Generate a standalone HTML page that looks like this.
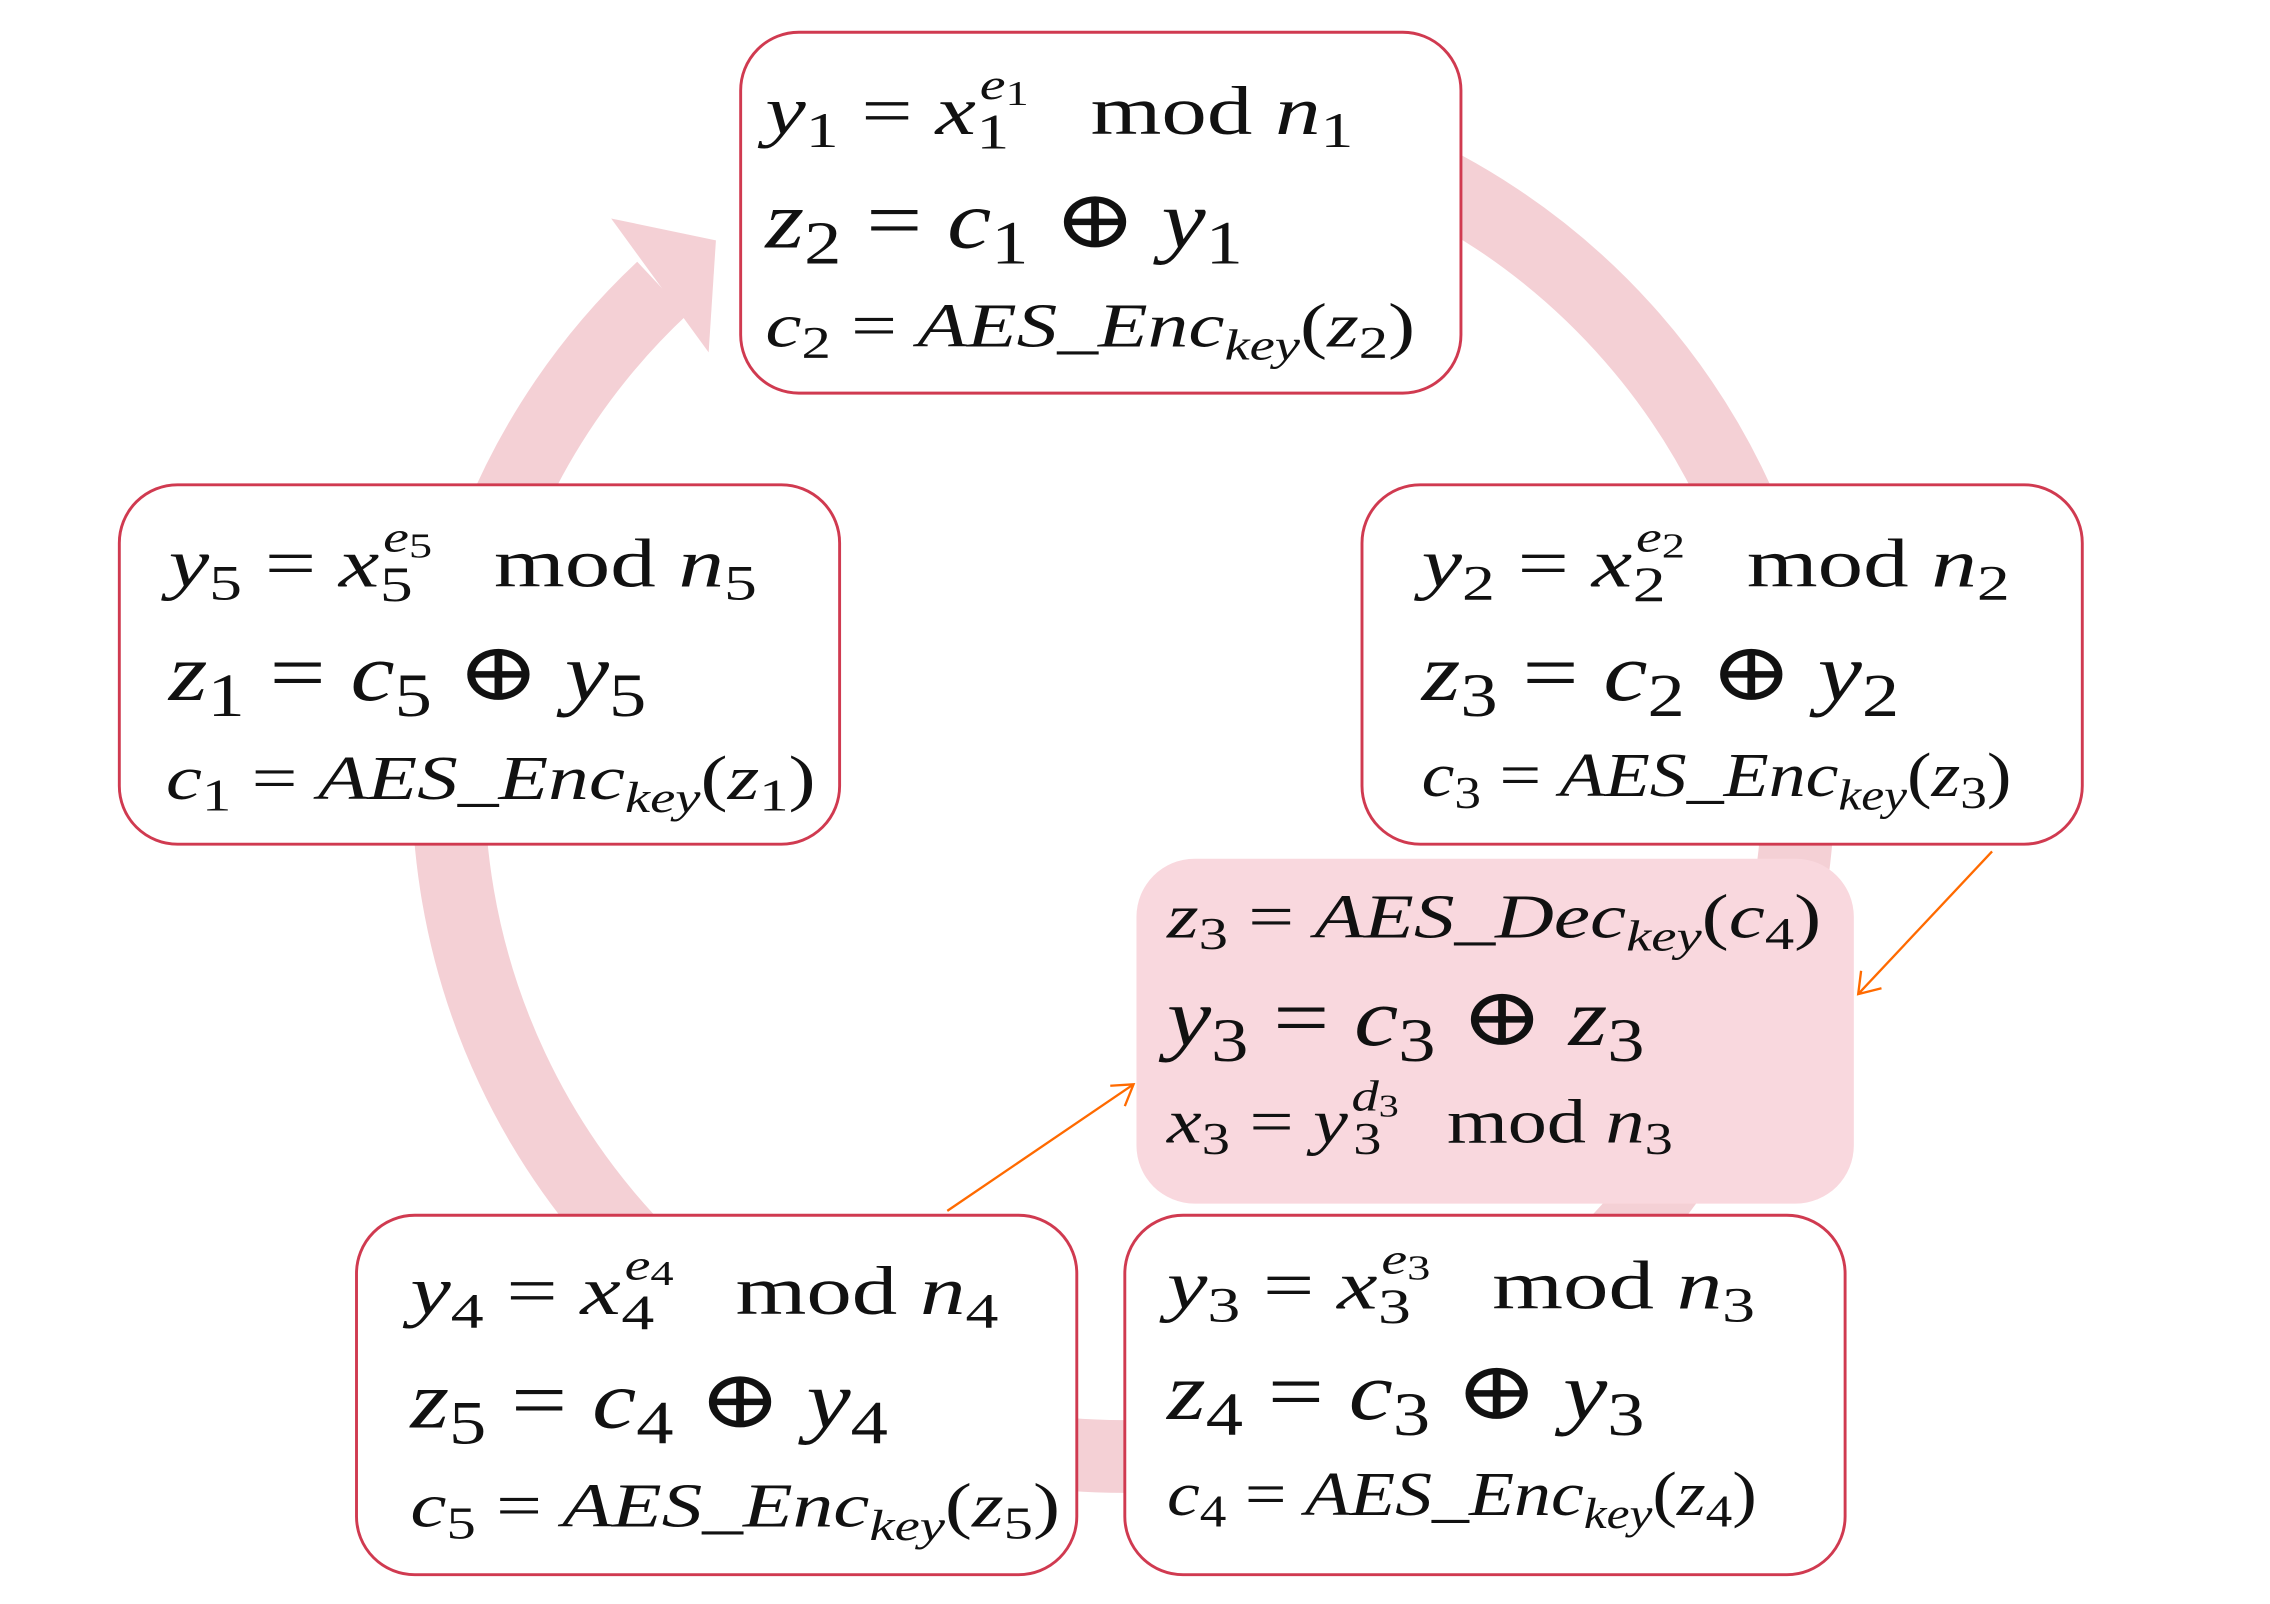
<!DOCTYPE html>
<html><head><meta charset="utf-8"><style>
html,body{margin:0;padding:0;background:#fff;}
svg{display:block;}
text{font-family:"Liberation Serif","DejaVu Serif",serif;font-style:italic;fill:#111;}
.r{font-style:normal;}
.l1{font-size:47px;} .l2{font-size:56px;} .l3{font-size:43px;}
</style></head><body>
<svg width="2270" height="1604" viewBox="0 0 1560 1102" xmlns="http://www.w3.org/2000/svg">
<path d="M 455 198 A 464 464 0 1 0 590 110" fill="none" stroke="#f4d0d5" stroke-width="50"/>
<polygon points="420,150 492,165 487,242" fill="#f4d0d5"/>

<!-- top box -->
<g transform="translate(509,22)">
<rect x="0" y="0" width="495" height="248" rx="40" fill="#fff" stroke="#d03a50" stroke-width="2"/>
<g transform="translate(17,70) scale(1.33,1)"><text class="l1" x="0" y="0">y<tspan class="r" font-size="34" dy="9">1</tspan><tspan class="r" dy="-9"> = </tspan>x<tspan dx="2" font-size="30" dy="-24">e</tspan><tspan class="r" font-size="24" dy="4">1</tspan><tspan class="r" font-size="34" dx="-27" dy="30">1</tspan><tspan class="r" dx="42" dy="-10">mod </tspan>n<tspan class="r" font-size="34" dy="9">1</tspan></text></g>
<g transform="translate(17,148) scale(1.22,1)"><text class="l2" x="0" y="0">z<tspan class="r" font-size="42" dy="11">2</tspan><tspan class="r" dy="-11"> = </tspan>c<tspan class="r" font-size="42" dy="11">1</tspan><tspan class="r" dy="-11"> ⊕ </tspan>y<tspan class="r" font-size="42" dy="11">1</tspan></text></g>
<g transform="translate(17,216) scale(1.3,1)"><text class="l3" x="0" y="0">c<tspan class="r" font-size="31" dy="8">2</tspan><tspan class="r" dy="-8"> = </tspan>AES_Enc<tspan font-size="30" dy="9">key</tspan><tspan class="r" dy="-9">(</tspan>z<tspan class="r" font-size="31" dy="8">2</tspan><tspan class="r" dy="-8">)</tspan></text></g>
</g>

<!-- left box -->
<g transform="translate(82,333)">
<rect x="0" y="0" width="495" height="247" rx="40" fill="#fff" stroke="#d03a50" stroke-width="2"/>
<g transform="translate(34,70) scale(1.33,1)"><text class="l1" x="0" y="0">y<tspan class="r" font-size="34" dy="9">5</tspan><tspan class="r" dy="-9"> = </tspan>x<tspan dx="2" font-size="30" dy="-24">e</tspan><tspan class="r" font-size="24" dy="4">5</tspan><tspan class="r" font-size="34" dx="-27" dy="30">5</tspan><tspan class="r" dx="42" dy="-10">mod </tspan>n<tspan class="r" font-size="34" dy="9">5</tspan></text></g>
<g transform="translate(34,148) scale(1.22,1)"><text class="l2" x="0" y="0">z<tspan class="r" font-size="42" dy="11">1</tspan><tspan class="r" dy="-11"> = </tspan>c<tspan class="r" font-size="42" dy="11">5</tspan><tspan class="r" dy="-11"> ⊕ </tspan>y<tspan class="r" font-size="42" dy="11">5</tspan></text></g>
<g transform="translate(32,216) scale(1.3,1)"><text class="l3" x="0" y="0">c<tspan class="r" font-size="31" dy="8">1</tspan><tspan class="r" dy="-8"> = </tspan>AES_Enc<tspan font-size="30" dy="9">key</tspan><tspan class="r" dy="-9">(</tspan>z<tspan class="r" font-size="31" dy="8">1</tspan><tspan class="r" dy="-8">)</tspan></text></g>
</g>

<!-- right box -->
<g transform="translate(936,333)">
<rect x="0" y="0" width="495" height="247" rx="40" fill="#fff" stroke="#d03a50" stroke-width="2"/>
<g transform="translate(41,70) scale(1.33,1)"><text class="l1" x="0" y="0">y<tspan class="r" font-size="34" dy="9">2</tspan><tspan class="r" dy="-9"> = </tspan>x<tspan dx="2" font-size="30" dy="-24">e</tspan><tspan class="r" font-size="24" dy="4">2</tspan><tspan class="r" font-size="34" dx="-27" dy="30">2</tspan><tspan class="r" dx="42" dy="-10">mod </tspan>n<tspan class="r" font-size="34" dy="9">2</tspan></text></g>
<g transform="translate(41,148) scale(1.22,1)"><text class="l2" x="0" y="0">z<tspan class="r" font-size="42" dy="11">3</tspan><tspan class="r" dy="-11"> = </tspan>c<tspan class="r" font-size="42" dy="11">2</tspan><tspan class="r" dy="-11"> ⊕ </tspan>y<tspan class="r" font-size="42" dy="11">2</tspan></text></g>
<g transform="translate(41,214) scale(1.18,1)"><text class="l3" x="0" y="0">c<tspan class="r" font-size="31" dy="8">3</tspan><tspan class="r" dy="-8"> = </tspan>AES_Enc<tspan font-size="30" dy="9">key</tspan><tspan class="r" dy="-9">(</tspan>z<tspan class="r" font-size="31" dy="8">3</tspan><tspan class="r" dy="-8">)</tspan></text></g>
</g>

<!-- decrypt box -->
<g transform="translate(781,590)">
<rect x="0" y="0" width="493" height="237" rx="40" fill="#f9d8de"/>
<g transform="translate(21,54) scale(1.3,1)"><text class="l3" x="0" y="0">z<tspan class="r" font-size="31" dy="8">3</tspan><tspan class="r" dy="-8"> = </tspan>AES_Dec<tspan font-size="30" dy="9">key</tspan><tspan class="r" dy="-9">(</tspan>c<tspan class="r" font-size="31" dy="8">4</tspan><tspan class="r" dy="-8">)</tspan></text></g>
<g transform="translate(21,128) scale(1.22,1)"><text class="l2" x="0" y="0">y<tspan class="r" font-size="42" dy="11">3</tspan><tspan class="r" dy="-11"> = </tspan>c<tspan class="r" font-size="42" dy="11">3</tspan><tspan class="r" dy="-11"> ⊕ </tspan>z<tspan class="r" font-size="42" dy="11">3</tspan></text></g>
<g transform="translate(21,195) scale(1.25,1)"><text class="l3" x="0" y="0">x<tspan class="r" font-size="31" dy="8">3</tspan><tspan class="r" dy="-8"> = </tspan>y<tspan dx="2" font-size="30" dy="-22">d</tspan><tspan class="r" font-size="22" dy="4">3</tspan><tspan class="r" font-size="31" dx="-25" dy="26">3</tspan><tspan class="r" dx="36" dy="-8">mod </tspan>n<tspan class="r" font-size="31" dy="8">3</tspan></text></g>
</g>

<!-- bottom-left box -->
<g transform="translate(245,835)">
<rect x="0" y="0" width="495" height="247" rx="40" fill="#fff" stroke="#d03a50" stroke-width="2"/>
<g transform="translate(37,68) scale(1.33,1)"><text class="l1" x="0" y="0">y<tspan class="r" font-size="34" dy="9">4</tspan><tspan class="r" dy="-9"> = </tspan>x<tspan dx="2" font-size="30" dy="-24">e</tspan><tspan class="r" font-size="24" dy="4">4</tspan><tspan class="r" font-size="34" dx="-27" dy="30">4</tspan><tspan class="r" dx="42" dy="-10">mod </tspan>n<tspan class="r" font-size="34" dy="9">4</tspan></text></g>
<g transform="translate(37,146) scale(1.22,1)"><text class="l2" x="0" y="0">z<tspan class="r" font-size="42" dy="11">5</tspan><tspan class="r" dy="-11"> = </tspan>c<tspan class="r" font-size="42" dy="11">4</tspan><tspan class="r" dy="-11"> ⊕ </tspan>y<tspan class="r" font-size="42" dy="11">4</tspan></text></g>
<g transform="translate(37,214) scale(1.3,1)"><text class="l3" x="0" y="0">c<tspan class="r" font-size="31" dy="8">5</tspan><tspan class="r" dy="-8"> = </tspan>AES_Enc<tspan font-size="30" dy="9">key</tspan><tspan class="r" dy="-9">(</tspan>z<tspan class="r" font-size="31" dy="8">5</tspan><tspan class="r" dy="-8">)</tspan></text></g>
</g>

<!-- bottom-right box -->
<g transform="translate(773,835)">
<rect x="0" y="0" width="495" height="247" rx="40" fill="#fff" stroke="#d03a50" stroke-width="2"/>
<g transform="translate(29,64) scale(1.33,1)"><text class="l1" x="0" y="0">y<tspan class="r" font-size="34" dy="9">3</tspan><tspan class="r" dy="-9"> = </tspan>x<tspan dx="2" font-size="30" dy="-24">e</tspan><tspan class="r" font-size="24" dy="4">3</tspan><tspan class="r" font-size="34" dx="-27" dy="30">3</tspan><tspan class="r" dx="42" dy="-10">mod </tspan>n<tspan class="r" font-size="34" dy="9">3</tspan></text></g>
<g transform="translate(29,140) scale(1.22,1)"><text class="l2" x="0" y="0">z<tspan class="r" font-size="42" dy="11">4</tspan><tspan class="r" dy="-11"> = </tspan>c<tspan class="r" font-size="42" dy="11">3</tspan><tspan class="r" dy="-11"> ⊕ </tspan>y<tspan class="r" font-size="42" dy="11">3</tspan></text></g>
<g transform="translate(29,206) scale(1.18,1)"><text class="l3" x="0" y="0">c<tspan class="r" font-size="31" dy="8">4</tspan><tspan class="r" dy="-8"> = </tspan>AES_Enc<tspan font-size="30" dy="9">key</tspan><tspan class="r" dy="-9">(</tspan>z<tspan class="r" font-size="31" dy="8">4</tspan><tspan class="r" dy="-8">)</tspan></text></g>
</g>

<g stroke="#ff6a00" stroke-width="1.6" fill="none">
<line x1="1369" y1="585" x2="1277" y2="683"/>
<polyline points="1279,667 1277,683 1293,679"/>
</g>
<g stroke="#ff6a00" stroke-width="1.6" fill="none">
<line x1="651" y1="832" x2="779" y2="745"/>
<polyline points="763,746 779,745 773,760"/>
</g>
</svg>
</body></html>
